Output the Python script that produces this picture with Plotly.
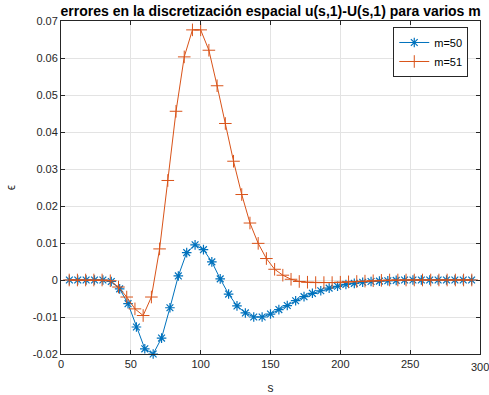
import plotly.graph_objects as go

# m=50 grid points (h = 6)
s50 = [6, 12, 18, 24, 30, 36, 42, 48, 54, 60, 66, 72, 78, 84, 90, 96, 102, 108, 114, 120,
       126, 132, 138, 144, 150, 156, 162, 168, 174, 180, 186, 192, 198, 204, 210, 216, 222,
       228, 234, 240, 246, 252, 258, 264, 270, 276, 282, 288, 294]
e50 = [0, 0, 0, 0, 0, -0.0004, -0.0024, -0.0064, -0.0127, -0.0186, -0.0200, -0.0157,
       -0.0075, 0.0011, 0.0074, 0.0095, 0.0082, 0.0049, 0.0003, -0.0038, -0.0070, -0.0089,
       -0.0100, -0.0100, -0.0092, -0.0080, -0.0069, -0.0056, -0.0045, -0.0036, -0.0029,
       -0.0022, -0.0017, -0.0012, -0.0009, -0.0006, -0.0004, -0.0003, -0.0002, -0.0001,
       0, 0, 0, 0, 0, 0, 0, 0, 0]

# m=51 grid points (h = 300/51)
s51 = [5.88, 11.76, 17.65, 23.53, 29.41, 35.29, 41.18, 47.06, 52.94, 58.82, 64.71, 70.59,
       76.47, 82.35, 88.24, 94.12, 100.00, 105.88, 111.76, 117.65, 123.53, 129.41, 135.29,
       141.18, 147.06, 152.94, 158.82, 164.71, 170.59, 176.47, 182.35, 188.24, 194.12,
       200.00, 205.88, 211.76, 217.65, 223.53, 229.41, 235.29, 241.18, 247.06, 252.94,
       258.82, 264.71, 270.59, 276.47, 282.35, 288.24, 294.12]
e51 = [0, 0, 0, 0, 0, -0.0002, -0.0019, -0.0046, -0.0078, -0.0096, -0.0046, 0.0084,
       0.0269, 0.0456, 0.0603, 0.0676, 0.0676, 0.0621, 0.0525, 0.0423, 0.0321, 0.0231,
       0.0154, 0.0099, 0.0058, 0.0029, 0.0013, 0.0002, -0.0004, -0.0006, -0.0007, -0.0007,
       -0.0007, -0.0006, -0.0005, -0.0004, -0.0003, -0.0002, -0.0001, 0, 0, 0, 0, 0, 0,
       0, 0, 0, 0, 0]

xticks = [0, 50, 100, 150, 200, 250, 300]
xtick_text = ["0", "50", "100", "150", "200", "250", "300"]
yticks = [-0.02, -0.01, 0, 0.01, 0.02, 0.03, 0.04, 0.05, 0.06, 0.07]
ytick_text = ["-0.02", "-0.01", "0", "0.01", "0.02", "0.03", "0.04", "0.05", "0.06", "0.07"]

BLUE = "#0072BD"
ORANGE = "#D95319"
AX = "#262626"
GRID = "#e3e3e3"
FONT = "Liberation Sans, Arial, sans-serif"

fig = go.Figure()
fig.add_trace(go.Scatter(
    x=s50, y=e50, mode="lines+markers", name="m=50",
    line=dict(color=BLUE, width=1),
    marker=dict(symbol="asterisk-open", size=8, color=BLUE, line=dict(color=BLUE, width=1.2)),
    cliponaxis=False,
))
fig.add_trace(go.Scatter(
    x=s51, y=e51, mode="lines+markers", name="m=51",
    line=dict(color=ORANGE, width=1),
    marker=dict(symbol="cross-thin-open", size=9, color=ORANGE, line=dict(color=ORANGE, width=1)),
    cliponaxis=False,
))

axis_common = dict(
    showline=True, linecolor=AX, linewidth=1, mirror="ticks",
    ticks="inside", ticklen=4, tickcolor=AX, tickwidth=1,
    showgrid=True, gridcolor=GRID, gridwidth=1, zeroline=False,
    tickfont=dict(family=FONT, size=11, color=AX),
    automargin=False,
)

fig.update_layout(
    width=489, height=395,
    margin=dict(l=61, r=9, t=21, b=41, autoexpand=False),
    paper_bgcolor="white", plot_bgcolor="white",
    title=dict(
        text="<b>errores en la discretización espacial u(s,1)-U(s,1) para varios m</b>",
        font=dict(family=FONT, size=14, color="black"),
        x=0.5535, xanchor="center", y=0.972, yanchor="middle",
        automargin=False,
    ),
    xaxis=dict(range=[0, 300], tickvals=xticks, ticktext=xtick_text,
               ticklabeloverflow="hide past div",
               title=dict(text="s", font=dict(family=FONT, size=12, color=AX), standoff=14),
               **axis_common),
    yaxis=dict(range=[-0.02, 0.07], tickvals=yticks, ticktext=ytick_text,
               title=dict(text="ϵ", font=dict(family=FONT, size=12, color=AX), standoff=14),
               **axis_common),
    legend=dict(
        x=0.972, xanchor="right", y=0.982, yanchor="top",
        bgcolor="white", bordercolor=AX, borderwidth=1,
        font=dict(family=FONT, size=11, color="black"),
        itemwidth=30, tracegroupgap=0,
    ),
    showlegend=True,
)

# the last x tick label sits at the right edge of the figure, partly cut off, as in the reference
fig.add_annotation(
    x=xticks[-1], y=0, xref="x", yref="paper", yshift=-13,
    text=xtick_text[-1], showarrow=False, xanchor="center", yanchor="middle",
    font=dict(family=FONT, size=11, color=AX),
)

fig.write_html("out.html")
